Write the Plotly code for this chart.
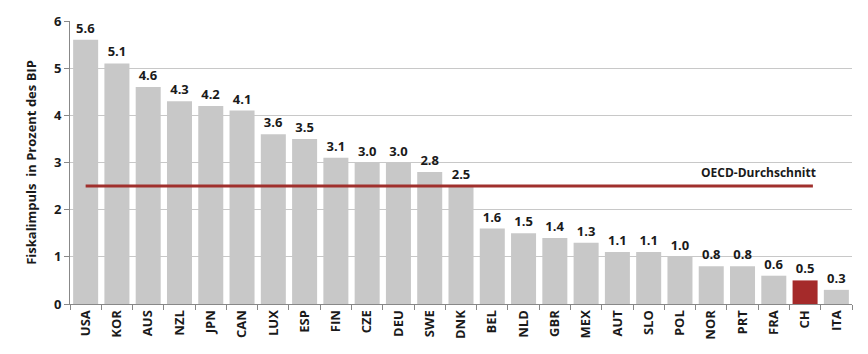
import plotly.graph_objects as go

countries = ["USA","KOR","AUS","NZL","JPN","CAN","LUX","ESP","FIN","CZE","DEU","SWE","DNK",
             "BEL","NLD","GBR","MEX","AUT","SLO","POL","NOR","PRT","FRA","CH","ITA"]
values = [5.6,5.1,4.6,4.3,4.2,4.1,3.6,3.5,3.1,3.0,3.0,2.8,2.5,
          1.6,1.5,1.4,1.3,1.1,1.1,1.0,0.8,0.8,0.6,0.5,0.3]
oecd_avg = 2.5
highlight = "CH"

colors = ["#A52A2A" if c == highlight else "#C8C8C8" for c in countries]
font_fam = "Open Sans, Liberation Sans, sans-serif"

fig = go.Figure()
fig.add_trace(go.Bar(
    x=countries, y=values, marker_color=colors, marker_line_width=0,
    text=[f"{v:.1f}" for v in values], textposition="outside",
    textfont=dict(size=13, color="#1a1a1a", family=font_fam, weight="bold"),
    cliponaxis=False, width=0.8,
))
fig.add_shape(type="line", xref="x", yref="y", x0=0, x1=23.25, y0=oecd_avg, y1=oecd_avg,
              line=dict(color="#A0302D", width=3))
fig.add_annotation(x=21.5, y=oecd_avg, yshift=14, xref="x", yref="y", text="OECD-Durchschnitt",
                   showarrow=False, font=dict(size=12, color="#1a1a1a", family=font_fam, weight="bold"))

fig.update_layout(
    width=868, height=354, margin=dict(l=70, r=16, t=15, b=50),
    paper_bgcolor="white", plot_bgcolor="white", showlegend=False,
    font=dict(family=font_fam, color="#1a1a1a"),
    uniformtext=dict(minsize=8, mode=False),
    xaxis=dict(tickangle=-90, showline=True, linecolor="#888888", linewidth=1,
               ticks="outside", ticklen=5, tickcolor="#888888", tickson="boundaries",
               tickfont=dict(size=13, family=font_fam, color="#1a1a1a", weight="bold"), showgrid=False),
    yaxis=dict(range=[0, 6], dtick=1, showline=True, linecolor="#888888", linewidth=1,
               ticks="outside", ticklen=5, tickcolor="#888888",
               gridcolor="#C8C8C8", gridwidth=1, zeroline=False,
               tickfont=dict(size=13, family=font_fam, color="#1a1a1a", weight="bold"),
               title=dict(text="<b>Fiskalimpuls  in Prozent des BIP</b>", font=dict(size=13), standoff=14)),
)
fig.write_html("out.html")
